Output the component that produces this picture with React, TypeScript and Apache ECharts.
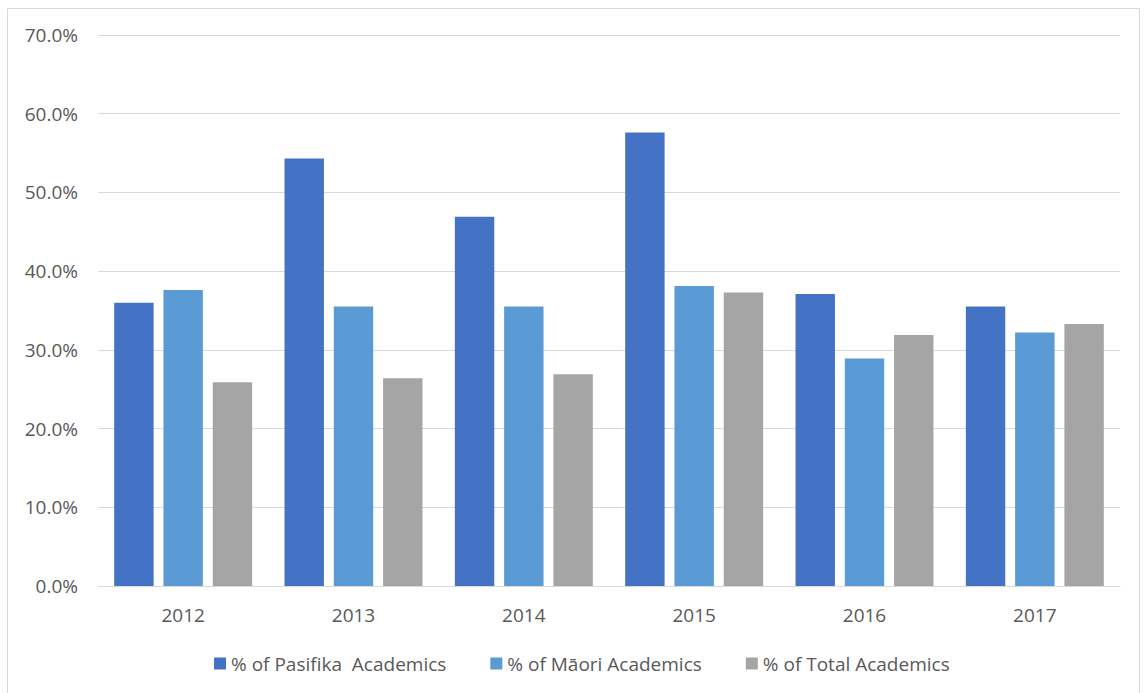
import React, { useEffect, useRef } from "react";
import * as echarts from "echarts";

const years = ["2012", "2013", "2014", "2015", "2016", "2017"];
const pasifika = [36.0, 54.3, 46.9, 57.6, 37.1, 35.5];
const maori = [37.6, 35.5, 35.5, 38.1, 28.9, 32.2];
const total = [25.9, 26.4, 26.9, 37.3, 31.9, 33.3];
const yTicks = [0, 10, 20, 30, 40, 50, 60, 70];
const seriesNames = ["% of Pasifika  Academics", "% of Māori Academics", "% of Total Academics"];
const colors = ["#4472C4", "#5B9BD5", "#A5A5A5"];

export default function App() {
  const ref = useRef<HTMLDivElement>(null);
  useEffect(() => {
    if (!ref.current) return;
    const chart = echarts.init(ref.current, null, { renderer: "svg" });
    const font = "'Open Sans', 'Liberation Sans', sans-serif";
    const mk = (name: string, data: number[], color: string) => ({
      name,
      type: "bar",
      data,
      barGap: "25%",
      barCategoryGap: "19%",
      itemStyle: { color },
    });
    chart.setOption({
      animation: false,
      backgroundColor: "#ffffff",
      textStyle: { fontFamily: font, color: "#595959" },
      graphic: [
        {
          type: "rect",
          shape: { x: 7.5, y: 8.5, width: 1132, height: 700 },
          style: { fill: "none", stroke: "#d9d9d9", lineWidth: 1 },
          silent: true,
        },
      ],
      grid: { left: 98, right: 27, top: 35, bottom: 107, containLabel: false },
      legend: {
        left: 209,
        top: 649,
        itemWidth: 12,
        itemHeight: 12,
        itemGap: 44,
        icon: "rect",
        textStyle: { fontFamily: font, fontSize: 19, color: "#595959" },
        data: seriesNames,
      },
      xAxis: {
        type: "category",
        data: years,
        axisLine: { lineStyle: { color: "#d9d9d9", width: 1 } },
        axisTick: { show: false },
        axisLabel: { fontFamily: font, fontSize: 19, color: "#595959", margin: 19 },
      },
      yAxis: {
        type: "value",
        min: yTicks[0],
        max: yTicks[yTicks.length - 1],
        interval: yTicks[1] - yTicks[0],
        axisLine: { show: false },
        axisTick: { show: false },
        axisLabel: {
          fontFamily: font,
          fontSize: 19,
          color: "#595959",
          margin: 20,
          formatter: (v: number) => v.toFixed(1) + "%",
        },
        splitLine: { lineStyle: { color: "#d9d9d9", width: 1 } },
      },
      series: [
        mk(seriesNames[0], pasifika, colors[0]),
        mk(seriesNames[1], maori, colors[1]),
        mk(seriesNames[2], total, colors[2]),
      ],
    });
    return () => chart.dispose();
  }, []);
  return (
    <div
      ref={ref}
      style={{ position: "fixed", left: 0, top: 0, width: 1147, height: 693 }}
    />
  );
}
